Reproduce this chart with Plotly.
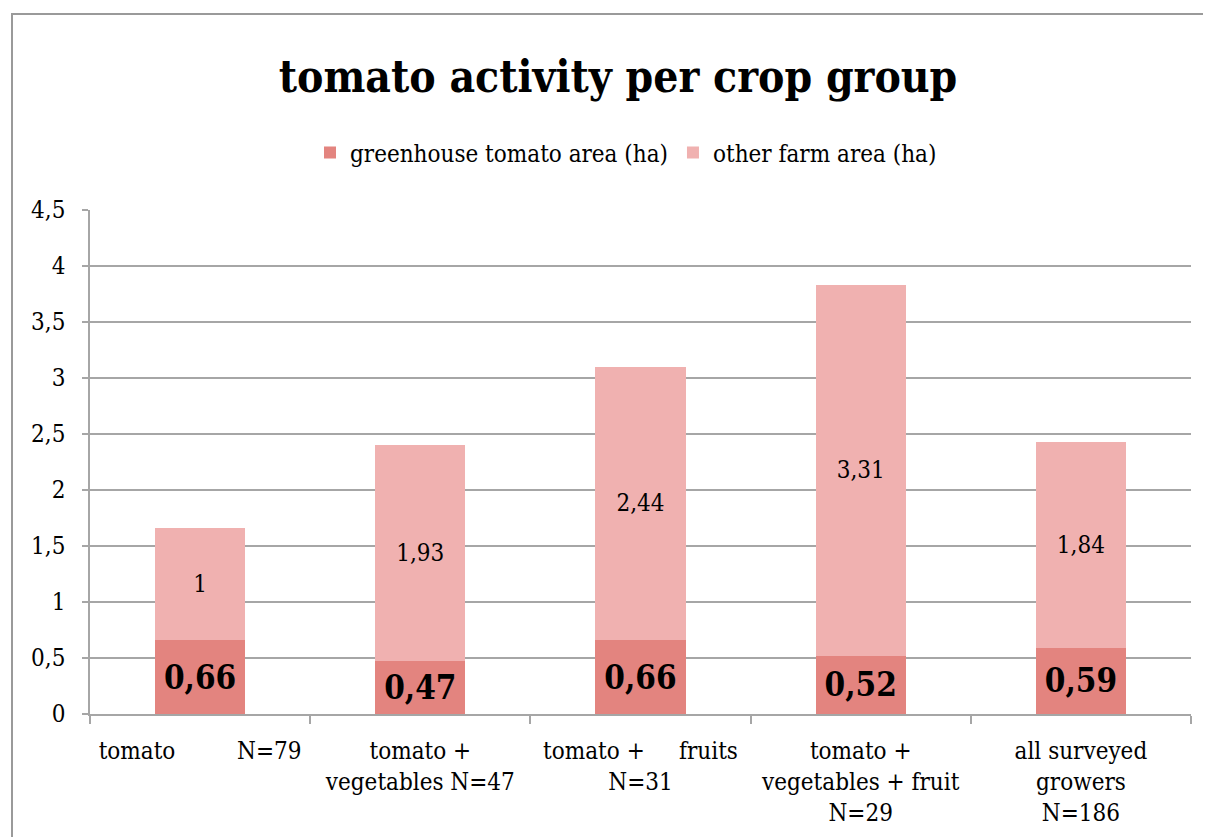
import plotly.graph_objects as go

NB = "\u00a0"
categories = [
    "tomato" + NB * 9 + "N=79",
    "tomato +<br>vegetables N=47",
    "tomato +" + NB * 5 + "fruits<br>N=31",
    "tomato +<br>vegetables + fruit<br>N=29",
    "all surveyed<br>growers<br>N=186",
]
greenhouse = [0.66, 0.47, 0.66, 0.52, 0.59]
other = [1, 1.93, 2.44, 3.31, 1.84]
y_ticks = [0, 0.5, 1, 1.5, 2, 2.5, 3, 3.5, 4, 4.5]

def fmt(v):
    return f"{v:g}".replace(".", ",")

FONT = "DejaVu Serif Condensed, DejaVu Serif, serif"

# page body has 8px margin: plot area target (page px) x 90-1191, y 210-714
L, T, R, B = 82, 202, 1211 - 1183, 837 - 706
PW, PH = 1211 - L - R, 837 - T - B

fig = go.Figure()
fig.add_trace(go.Bar(
    x=categories, y=greenhouse, name="greenhouse tomato area (ha)",
    marker=dict(color="#e3847f", line=dict(width=0)),
    text=[fmt(v) for v in greenhouse], textposition="inside",
    insidetextanchor="middle", constraintext="none",
    textfont=dict(family=FONT, size=33, color="black", weight="bold"),
))
fig.add_trace(go.Bar(
    x=categories, y=other, name="other farm area (ha)",
    marker=dict(color="#f0b1b0", line=dict(width=0)),
    text=[fmt(v) for v in other], textposition="inside",
    insidetextanchor="middle", constraintext="none",
    textfont=dict(family=FONT, size=24, color="black"),
))

fig.update_layout(
    barmode="stack", bargap=0.59,
    width=1211, height=837,
    margin=dict(l=L, r=R, t=T, b=B, autoexpand=False),
    paper_bgcolor="white", plot_bgcolor="white",
    separators=", ",
    font=dict(family=FONT, size=24, color="black"),
    title=dict(text="<b>tomato activity per crop group</b>", x=610 / 1211, xanchor="center",
               y=1 - 69 / 837, yanchor="middle",
               font=dict(family=FONT, size=44, color="black")),
    legend=dict(orientation="h", x=(618 - L) / PW, xanchor="center",
                y=(706 - 145) / PH, yanchor="middle",
                font=dict(family=FONT, size=24), traceorder="normal",
                bgcolor="rgba(0,0,0,0)", itemwidth=30),
    showlegend=True,
)
fig.update_yaxes(
    range=[0, 4.5], tickvals=y_ticks, ticktext=[fmt(v) for v in y_ticks],
    showgrid=True, gridcolor="#a6a6a6", gridwidth=1.5,
    showline=True, linecolor="#a6a6a6", linewidth=1.5,
    ticks="outside", ticklen=6, tickcolor="#a6a6a6", tickwidth=1.5,
    zeroline=False, ticklabelstandoff=12, automargin=False,
    tickfont=dict(family=FONT, size=24),
)
fig.update_xaxes(
    showline=True, linecolor="#a6a6a6", linewidth=1.5,
    ticks="outside", tickson="boundaries", ticklen=8, tickcolor="#a6a6a6", tickwidth=1.5,
    tickfont=dict(family=FONT, size=24), ticklabelstandoff=14,
    tickangle=0, automargin=False,
)
# outer chart border
fig.add_shape(type="rect", xref="paper", yref="paper",
              x0=(4 - L) / PW, x1=1.05, y0=-0.4, y1=(706 - 6) / PH,
              line=dict(color="#9a9a9a", width=2), fillcolor="rgba(0,0,0,0)", layer="below")

fig.write_html("out.html")
